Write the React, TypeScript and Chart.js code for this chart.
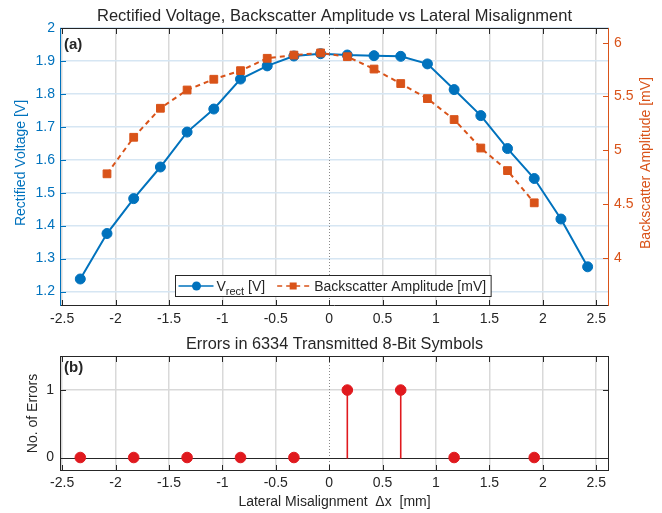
import React, { useEffect, useRef } from 'react';
import { Chart, registerables } from 'chart.js';

Chart.register(...registerables);

const FONT = '"Liberation Sans", Arial, Helvetica, sans-serif';
const BLUE = '#0072BD';
const ORANGE = '#D95319';
const RED = '#E0191E';
const DARK = '#262626';
const GRID_GRAY = '#d9d9d9';
const GRID_BLUE = '#d6e6f3';

// ---- data ----
const misalignment = [-2.33, -2.08, -1.83, -1.58, -1.33, -1.08, -0.83, -0.58, -0.33, -0.08, 0.17, 0.42, 0.67, 0.92, 1.17, 1.42, 1.67, 1.92, 2.17, 2.42];
const vrect = [1.238, 1.376, 1.482, 1.578, 1.684, 1.754, 1.845, 1.885, 1.915, 1.922, 1.918, 1.916, 1.914, 1.891, 1.813, 1.734, 1.634, 1.543, 1.42, 1.275];
const backscatterMisalignment = [-2.08, -1.83, -1.58, -1.33, -1.08, -0.83, -0.58, -0.33, -0.08, 0.17, 0.42, 0.67, 0.92, 1.17, 1.42, 1.67, 1.92];
const backscatter = [4.78, 5.12, 5.39, 5.56, 5.66, 5.74, 5.855, 5.885, 5.905, 5.87, 5.755, 5.62, 5.48, 5.285, 5.02, 4.81, 4.51];
const errorMisalignment = [-2.33, -1.83, -1.33, -0.83, -0.33, 0.17, 0.67, 1.17, 1.92];
const errorCount = [0, 0, 0, 0, 0, 1, 1, 0, 0];

const xTicks = [-2.5, -2, -1.5, -1, -0.5, 0, 0.5, 1, 1.5, 2, 2.5];
const vTicks = [1.2, 1.3, 1.4, 1.5, 1.6, 1.7, 1.8, 1.9, 2];
const bTicks = [4, 4.5, 5, 5.5, 6];
const errTicks = [0, 1];

const X_MIN = -2.52;
const X_MAX = 2.62;
const V_MIN = 1.156;
const V_MAX = 2.0;
const B_MIN = 3.55;
const B_MAX = 6.137;
const E_MIN = -0.2;
const E_MAX = 1.505;

const TITLE_TOP = 'Rectified Voltage, Backscatter Amplitude vs Lateral Misalignment';
const TITLE_BOTTOM = 'Errors in 6334 Transmitted 8-Bit Symbols';
const Y_TITLE_LEFT = 'Rectified Voltage [V]';
const Y_TITLE_RIGHT = 'Backscatter Amplitude [mV]';
const Y_TITLE_ERR = 'No. of Errors';
const X_TITLE = 'Lateral Misalignment  \u0394x  [mm]';

function font(size: number, weight = 'normal') {
  return `${weight} ${size}px ${FONT}`;
}

function hline(ctx: CanvasRenderingContext2D, x1: number, x2: number, y: number) {
  ctx.beginPath();
  ctx.moveTo(x1, y);
  ctx.lineTo(x2, y);
  ctx.stroke();
}
function vline(ctx: CanvasRenderingContext2D, x: number, y1: number, y2: number) {
  ctx.beginPath();
  ctx.moveTo(x, y1);
  ctx.lineTo(x, y2);
  ctx.stroke();
}

function drawZeroDotted(chart: any) {
  const { ctx, chartArea: a, scales } = chart;
  const x0 = Math.round(scales.x.getPixelForValue(0)) + 0.5;
  ctx.save();
  ctx.strokeStyle = '#8a8a8a';
  ctx.lineWidth = 1;
  ctx.setLineDash([1, 2]);
  vline(ctx, x0, a.top, a.bottom);
  ctx.restore();
}

function rotatedText(ctx: CanvasRenderingContext2D, text: string, x: number, y: number, color: string, size: number) {
  ctx.save();
  ctx.translate(x, y);
  ctx.rotate(-Math.PI / 2);
  ctx.font = font(size);
  ctx.fillStyle = color;
  ctx.textAlign = 'center';
  ctx.textBaseline = 'middle';
  ctx.fillText(text, 0, 0);
  ctx.restore();
}

function legendWidth(ctx: CanvasRenderingContext2D) {
  ctx.font = font(14);
  let w = 3 + 38 + ctx.measureText('V').width + ctx.measureText(' [V]').width + 12 + 37 + ctx.measureText(Y_TITLE_RIGHT).width + 5;
  ctx.font = font(11);
  w += ctx.measureText('rect').width;
  return w;
}

const topDecor = {
  id: 'topDecor',
  beforeDatasetsDraw(chart: any) {
    drawZeroDotted(chart);
  },
  afterDatasetsDraw(chart: any) {
    const { ctx, chartArea: a } = chart;
    ctx.save();
    ctx.fillStyle = '#ffffff';
    ctx.fillRect(175.5, a.bottom - 30.5, legendWidth(ctx), 21);
    ctx.restore();
  },
  afterDraw(chart: any) {
    const { ctx, chartArea: a, scales } = chart;
    const TL = 6;
    ctx.save();
    ctx.lineWidth = 1;
    // x ticks (inward, top and bottom)
    ctx.strokeStyle = DARK;
    xTicks.forEach((v) => {
      const px = Math.round(scales.x.getPixelForValue(v)) + 0.5;
      vline(ctx, px, a.bottom, a.bottom - TL);
      vline(ctx, px, a.top, a.top + TL);
    });
    // left ticks
    ctx.strokeStyle = BLUE;
    vTicks.forEach((v) => {
      const py = Math.round(scales.y.getPixelForValue(v)) + 0.5;
      hline(ctx, a.left, a.left + TL, py);
    });
    // right ticks
    ctx.strokeStyle = ORANGE;
    bTicks.forEach((v) => {
      const py = Math.round(scales.y1.getPixelForValue(v)) + 0.5;
      hline(ctx, a.right - TL, a.right, py);
    });
    // frame
    ctx.strokeStyle = DARK;
    hline(ctx, a.left, a.right, Math.round(a.top) + 0.5);
    hline(ctx, a.left, a.right, Math.round(a.bottom) - 0.5);
    ctx.strokeStyle = BLUE;
    vline(ctx, Math.round(a.left) + 0.5, a.top, a.bottom);
    ctx.strokeStyle = ORANGE;
    vline(ctx, Math.round(a.right) - 0.5, a.top, a.bottom);

    // title
    ctx.fillStyle = DARK;
    ctx.font = font(16.5);
    ctx.textAlign = 'center';
    ctx.textBaseline = 'middle';
    ctx.fillText(TITLE_TOP, (a.left + a.right) / 2, 16);

    // axis titles
    const midY = (a.top + a.bottom) / 2 - 4;
    rotatedText(ctx, Y_TITLE_LEFT, 21, midY, BLUE, 14);
    rotatedText(ctx, Y_TITLE_RIGHT, 646, midY, ORANGE, 14);

    // panel label
    ctx.fillStyle = DARK;
    ctx.font = font(15, 'bold');
    ctx.textAlign = 'left';
    ctx.textBaseline = 'middle';
    ctx.fillText('(a)', a.left + 4, a.top + 17);

    // legend
    const boxL = 175.5;
    const boxT = a.bottom - 30.5;
    const boxH = 21;
    const cy = boxT + boxH / 2;
    let x = boxL + 3;
    ctx.strokeStyle = BLUE;
    ctx.lineWidth = 1.6;
    hline(ctx, x, x + 35, cy);
    ctx.fillStyle = BLUE;
    ctx.beginPath();
    ctx.arc(x + 18, cy, 4.5, 0, Math.PI * 2);
    ctx.fill();
    x += 38;
    ctx.fillStyle = DARK;
    ctx.font = font(14);
    ctx.textBaseline = 'alphabetic';
    const base = cy + 5;
    ctx.fillText('V', x, base);
    x += ctx.measureText('V').width;
    ctx.font = font(11);
    ctx.fillText('rect', x, base + 4);
    x += ctx.measureText('rect').width;
    ctx.font = font(14);
    ctx.fillText(' [V]', x, base);
    x += ctx.measureText(' [V]').width;
    x += 12;
    ctx.strokeStyle = ORANGE;
    ctx.lineWidth = 1.6;
    ctx.setLineDash([5, 4]);
    hline(ctx, x, x + 32, cy);
    ctx.setLineDash([]);
    ctx.fillStyle = ORANGE;
    ctx.fillRect(x + 16 - 3.5, cy - 3.5, 7, 7);
    x += 37;
    ctx.fillStyle = DARK;
    ctx.font = font(14);
    ctx.fillText(Y_TITLE_RIGHT, x, base);
    x += ctx.measureText(Y_TITLE_RIGHT).width + 5;
    ctx.strokeStyle = DARK;
    ctx.lineWidth = 1;
    ctx.strokeRect(boxL, boxT, x - boxL, boxH);
    ctx.restore();
  },
};

const bottomDecor = {
  id: 'bottomDecor',
  beforeDatasetsDraw(chart: any) {
    const { ctx, chartArea: a, scales } = chart;
    drawZeroDotted(chart);
    const y0 = Math.round(scales.y.getPixelForValue(0)) + 0.5;
    ctx.save();
    ctx.strokeStyle = DARK;
    ctx.lineWidth = 1.2;
    hline(ctx, a.left, a.right, y0);
    ctx.strokeStyle = RED;
    ctx.lineWidth = 1.6;
    const meta = chart.getDatasetMeta(0);
    meta.data.forEach((pt: any) => {
      if (Math.abs(pt.y - y0) > 1) vline(ctx, pt.x, y0, pt.y);
    });
    ctx.restore();
  },
  afterDraw(chart: any) {
    const { ctx, chartArea: a, scales } = chart;
    const TL = 6;
    ctx.save();
    ctx.lineWidth = 1;
    ctx.strokeStyle = DARK;
    xTicks.forEach((v) => {
      const px = Math.round(scales.x.getPixelForValue(v)) + 0.5;
      vline(ctx, px, a.bottom, a.bottom - TL);
      vline(ctx, px, a.top, a.top + TL);
    });
    errTicks.forEach((v) => {
      const py = Math.round(scales.y.getPixelForValue(v)) + 0.5;
      hline(ctx, a.left, a.left + TL, py);
      hline(ctx, a.right - TL, a.right, py);
    });
    ctx.strokeRect(Math.round(a.left) + 0.5, Math.round(a.top) + 0.5, Math.round(a.right - a.left) - 1, Math.round(a.bottom - a.top) - 1);

    ctx.fillStyle = DARK;
    ctx.font = font(16.3);
    ctx.textAlign = 'center';
    ctx.textBaseline = 'middle';
    ctx.fillText(TITLE_BOTTOM, (a.left + a.right) / 2, 15);
    ctx.font = font(14);
    ctx.fillText(X_TITLE, (a.left + a.right) / 2, 172);
    rotatedText(ctx, Y_TITLE_ERR, 33, (a.top + a.bottom) / 2, DARK, 14);

    ctx.font = font(15, 'bold');
    ctx.textAlign = 'left';
    ctx.fillText('(b)', a.left + 4, a.top + 11.5);
    ctx.restore();
  },
};

const tickFont = { family: FONT, size: 14 };

function TopChart() {
  const ref = useRef<HTMLCanvasElement>(null);
  useEffect(() => {
    const chart = new Chart(ref.current as HTMLCanvasElement, {
      type: 'scatter',
      data: {
        datasets: [
          {
            label: Y_TITLE_RIGHT,
            data: backscatterMisalignment.map((x, i) => ({ x, y: backscatter[i] })),
            yAxisID: 'y1',
            showLine: true,
            borderColor: ORANGE,
            backgroundColor: ORANGE,
            borderWidth: 2,
            borderDash: [5, 4],
            pointStyle: 'rect',
            pointRadius: 5.5,
            pointBorderWidth: 1,
            order: 0,
          },
          {
            label: 'Vrect [V]',
            data: misalignment.map((x, i) => ({ x, y: vrect[i] })),
            yAxisID: 'y',
            showLine: true,
            borderColor: BLUE,
            backgroundColor: BLUE,
            borderWidth: 2,
            pointStyle: 'circle',
            pointRadius: 5,
            pointBorderWidth: 1,
            order: 1,
          },
        ],
      } as any,
      options: {
        responsive: false,
        animation: false,
        events: [],
        layout: { padding: { top: 28, left: 0, right: 0, bottom: 0 } },
        plugins: { legend: { display: false }, tooltip: { enabled: false }, title: { display: false } },
        scales: {
          x: {
            type: 'linear',
            position: 'bottom',
            min: X_MIN,
            max: X_MAX,
            afterBuildTicks: (s: any) => { s.ticks = xTicks.map((v) => ({ value: v })); },
            afterFit: (s: any) => { s.height = 24; },
            ticks: { font: tickFont, color: DARK, padding: 5, maxRotation: 0, autoSkip: false, callback: (v: any) => String(v) },
            grid: { color: (c: any) => (c.tick && c.tick.value === 0 ? 'rgba(0,0,0,0)' : GRID_GRAY), lineWidth: 1.5, drawTicks: false },
            border: { display: false },
          },
          y: {
            type: 'linear',
            position: 'left',
            min: V_MIN,
            max: V_MAX,
            afterBuildTicks: (s: any) => { s.ticks = vTicks.map((v) => ({ value: v })); },
            afterFit: (s: any) => { s.width = 60; },
            ticks: { font: tickFont, color: BLUE, padding: 5, autoSkip: false, callback: (v: any) => String(v) },
            grid: { color: GRID_BLUE, lineWidth: 1.5, drawTicks: false },
            border: { display: false },
          },
          y1: {
            type: 'linear',
            position: 'right',
            min: B_MIN,
            max: B_MAX,
            afterBuildTicks: (s: any) => { s.ticks = bTicks.map((v) => ({ value: v })); },
            afterFit: (s: any) => { s.width = 53; },
            ticks: { font: tickFont, color: ORANGE, padding: 5, autoSkip: false, callback: (v: any) => String(v) },
            grid: { drawOnChartArea: false, drawTicks: false },
            border: { display: false },
          },
        },
      } as any,
      plugins: [topDecor],
    });
    return () => chart.destroy();
  }, []);
  return <canvas ref={ref} width={662} height={330} style={{ display: 'block', position: 'absolute', left: 0, top: 0 }} />;
}

function BottomChart() {
  const ref = useRef<HTMLCanvasElement>(null);
  useEffect(() => {
    const chart = new Chart(ref.current as HTMLCanvasElement, {
      type: 'scatter',
      data: {
        datasets: [
          {
            label: 'Errors',
            data: errorMisalignment.map((x, i) => ({ x, y: errorCount[i] })),
            showLine: false,
            borderColor: RED,
            backgroundColor: RED,
            pointStyle: 'circle',
            pointRadius: 5.3,
            pointBorderWidth: 1,
          },
        ],
      } as any,
      options: {
        responsive: false,
        animation: false,
        events: [],
        layout: { padding: { top: 26, left: 0, right: 53, bottom: 0 } },
        plugins: { legend: { display: false }, tooltip: { enabled: false }, title: { display: false } },
        scales: {
          x: {
            type: 'linear',
            position: 'bottom',
            min: X_MIN,
            max: X_MAX,
            afterBuildTicks: (s: any) => { s.ticks = xTicks.map((v) => ({ value: v })); },
            afterFit: (s: any) => { s.height = 42; },
            ticks: { font: tickFont, color: DARK, padding: 4, maxRotation: 0, autoSkip: false, callback: (v: any) => String(v) },
            grid: { color: (c: any) => (c.tick && c.tick.value === 0 ? 'rgba(0,0,0,0)' : GRID_GRAY), lineWidth: 1.5, drawTicks: false },
            border: { display: false },
          },
          y: {
            type: 'linear',
            position: 'left',
            min: E_MIN,
            max: E_MAX,
            afterBuildTicks: (s: any) => { s.ticks = errTicks.map((v) => ({ value: v })); },
            afterFit: (s: any) => { s.width = 60; },
            ticks: { font: tickFont, color: DARK, padding: 6, autoSkip: false, callback: (v: any) => String(v) },
            grid: { color: (c: any) => (c.tick && c.tick.value === 0 ? 'rgba(0,0,0,0)' : GRID_GRAY), lineWidth: 1.5, drawTicks: false },
            border: { display: false },
          },
        },
      } as any,
      plugins: [bottomDecor],
    });
    return () => chart.destroy();
  }, []);
  return <canvas ref={ref} width={662} height={183} style={{ display: 'block', position: 'absolute', left: 0, top: 330 }} />;
}

export default function App() {
  return (
    <div style={{ position: 'absolute', left: 0, top: 0, width: 662, height: 513, background: '#ffffff', overflow: 'hidden' }}>
      <TopChart />
      <BottomChart />
    </div>
  );
}
